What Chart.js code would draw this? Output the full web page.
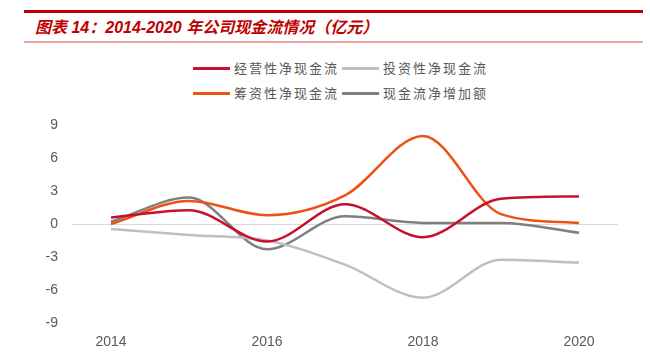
<!DOCTYPE html>
<html>
<head>
<meta charset="utf-8">
<script src="https://cdn.jsdelivr.net/npm/chart.js@4.4.1/dist/chart.umd.min.js"></script>
<style>
  body { margin: 0; background: #fff; }
  #wrap { position: relative; width: 650px; height: 352px; overflow: hidden; }
  #topline { position: absolute; left: 24px; top: 10px; width: 619px; height: 3px; background: #c00000; }
  #botline { position: absolute; left: 24px; top: 41px; width: 619px; height: 2px; background: #eba5a5; }
  #title { position: absolute; left: 35px; top: 14px; font: italic bold 16px "Liberation Sans", "Noto Sans CJK SC", sans-serif; color: #c00000; white-space: nowrap; }
  .leg { position: absolute; font: 13px "Noto Sans CJK SC", sans-serif; color: #595959; letter-spacing: 2px; white-space: nowrap; line-height: 16px; }
  .leg i { display: inline-block; width: 37px; height: 3px; vertical-align: middle; margin-right: 4px; position: relative; top: -1px; }
  canvas { position: absolute; left: 0; top: 0; }
</style>
</head>
<body>
<div id="wrap">
  <div id="topline"></div>
  <div id="title">图表 14：2014-2020 年公司现金流情况（亿元）</div>
  <div id="botline"></div>
  <div id="legend"></div>
  <canvas id="cashChart" width="650" height="352"></canvas>
</div>
<script>
const years = ['2014', '2015', '2016', '2017', '2018', '2019', '2020'];
const seriesNames = ['经营性净现金流', '投资性净现金流', '筹资性净现金流', '现金流净增加额'];
const seriesColors = ['#c8102e', '#bfbfbf', '#eb5214', '#7f7f7f'];
const operating = [0.6, 1.25, -1.6, 1.8, -1.2, 2.3, 2.5];
const investing = [-0.45, -1.0, -1.5, -3.7, -6.7, -3.25, -3.5];
const financing = [0.0, 2.1, 0.8, 2.6, 8.0, 0.9, 0.1];
const netChange = [0.2, 2.4, -2.3, 0.7, 0.1, 0.1, -0.8];
const yTicks = [-9, -6, -3, 0, 3, 6, 9];

const seriesData = [operating, investing, financing, netChange];

// legend: two rows of two items
const legendPos = [[193, 60], [342, 60], [193, 85], [342, 85]];
const legendEl = document.getElementById('legend');
seriesNames.forEach((name, i) => {
    const d = document.createElement('div');
    d.className = 'leg';
    d.style.left = legendPos[i][0] + 'px';
    d.style.top = legendPos[i][1] + 'px';
    d.innerHTML = '<i style="background:' + seriesColors[i] + '"></i>' + name;
    legendEl.appendChild(d);
});

const ctx = document.getElementById('cashChart').getContext('2d');

const cashChart = new Chart(ctx, {
    type: 'line',
    data: {
        labels: years,
        datasets: seriesNames.map((name, i) => ({
            label: name,
            data: seriesData[i],
            borderColor: seriesColors[i],
            backgroundColor: seriesColors[i],
            borderWidth: 2.5,
            pointRadius: 0,
            cubicInterpolationMode: 'monotone',
            fill: false
        }))
    },
    options: {
        responsive: false,
        animation: false,
        layout: {
            padding: { top: 125, right: 32, left: 0, bottom: 0 }
        },
        plugins: {
            legend: { display: false },
            tooltip: { enabled: false }
        },
        scales: {
            x: {
                offset: true,
                border: { display: false },
                grid: { display: false, drawTicks: false },
                ticks: {
                    autoSkip: false,
                    maxRotation: 0,
                    padding: 11,
                    color: '#595959',
                    font: { family: 'Liberation Sans', size: 14 },
                    callback: function (v, i) {
                        return i % 2 === 0 ? years[i] : '';
                    }
                },
                afterFit: function (scale) { scale.height = 29; }
            },
            y: {
                min: -9,
                max: 9,
                border: { display: false },
                afterBuildTicks: function (scale) {
                    scale.ticks = yTicks.map(v => ({ value: v }));
                },
                grid: {
                    drawTicks: false,
                    lineWidth: 1,
                    color: function (c) {
                        return c.tick && c.tick.value === 0 ? '#d9d9d9' : 'rgba(0,0,0,0)';
                    }
                },
                ticks: {
                    padding: 14,
                    color: '#595959',
                    font: { family: 'Liberation Sans', size: 14 }
                },
                afterFit: function (scale) { scale.width = 72; }
            }
        }
    }
});
</script>
</body>
</html>
